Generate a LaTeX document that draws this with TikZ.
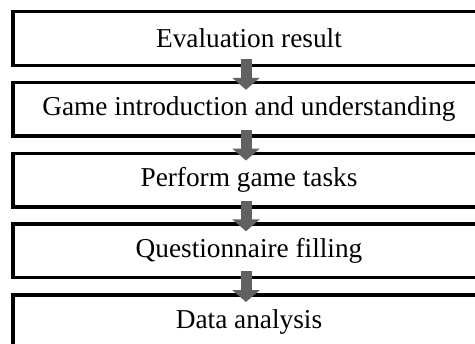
\documentclass[tikz,border=0pt]{standalone}
\usepackage{fontspec}
\setmainfont{Liberation Serif}
\usetikzlibrary{positioning,arrows.meta}

\begin{document}
\begin{tikzpicture}[
    x=1bp, y=1bp,
    node distance=13.75bp,
    every node/.style={font=\fontsize{27.4}{30}\selectfont},
    stage/.style={draw, line width=3.5bp, minimum width=472bp,
                  minimum height=53.5bp, inner sep=0pt},
    flow/.style={draw=black!72, line width=11bp, black!62,
                 -{Triangle[width=27bp, length=12bp]}}
]
\useasboundingbox (0,0) rectangle (475,343);
\clip (0,0) rectangle (475,343);

\node[stage] (eval) at (249,304.5) {Evaluation result};
\node[stage, below=of eval] (intro) {Game introduction and understanding};
\node[stage, below=of intro] (tasks) {Perform game tasks};
\node[stage, below=of tasks] (quest) {Questionnaire filling};
\node[stage, below=of quest] (data) {Data analysis};

\draw[flow] ([xshift=-3bp, yshift=8bp]eval.south) -- ([xshift=-3bp, yshift=-9bp]intro.north);
\draw[flow] ([xshift=-3bp, yshift=8bp]intro.south) -- ([xshift=-3bp, yshift=-9bp]tasks.north);
\draw[flow] ([xshift=-3bp, yshift=8bp]tasks.south) -- ([xshift=-3bp, yshift=-9bp]quest.north);
\draw[flow] ([xshift=-3bp, yshift=8bp]quest.south) -- ([xshift=-3bp, yshift=-9bp]data.north);
\end{tikzpicture}
\end{document}
